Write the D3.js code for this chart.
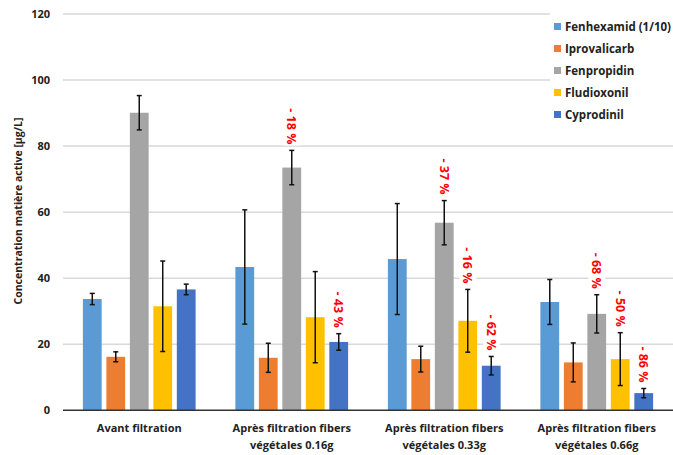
<!DOCTYPE html>
<html>
<head>
<meta charset="utf-8">
<script src="https://cdn.jsdelivr.net/npm/d3@7"></script>
<style>
  body { margin: 0; background: #fff; }
  svg text { font-family: "Open Sans", "DejaVu Sans", sans-serif; font-weight: 700; }
</style>
</head>
<body>
<div id="chart"></div>
<script>
const width = 673;
const height = 455;

const categories = [
  ["Avant filtration"],
  ["Après filtration fibers", "végétales 0.16g"],
  ["Après filtration fibers", "végétales 0.33g"],
  ["Après filtration fibers", "végétales 0.66g"],
];
const series = ["Fenhexamid (1/10)", "Iprovalicarb", "Fenpropidin", "Fludioxonil", "Cyprodinil"];
const colours = ["#5B9BD5", "#ED7D31", "#A5A5A5", "#FFC000", "#4472C4"];

// values[category][series]
const values = [
  [33.7, 16.2, 90.1, 31.5, 36.6],
  [43.4, 15.9, 73.5, 28.2, 20.7],
  [45.8, 15.5, 56.8, 27.1, 13.5],
  [32.8, 14.5, 29.2, 15.5, 5.2],
];
const errors = [
  [1.7, 1.5, 5.2, 13.7, 1.6],
  [17.3, 4.4, 5.2, 13.8, 2.5],
  [16.8, 3.9, 6.7, 9.5, 2.8],
  [6.8, 5.9, 5.8, 8.0, 1.4],
];
const reductions = [
  [null, null, null, null, null],
  [null, null, "- 18 %", null, "- 43 %"],
  [null, null, "- 37 %", "- 16 %", "- 62 %"],
  [null, null, "- 68 %", "- 50 %", "- 86 %"],
];
const yTicks = [0, 20, 40, 60, 80, 100, 120];

const margin = { top: 14, right: 0, bottom: 45, left: 63 };

const svg = d3.select("#chart")
  .append("svg")
  .attr("width", width)
  .attr("height", height);

const y = d3.scaleLinear().domain([0, 120]).range([height - margin.bottom + 0.3, margin.top]);

const x0 = d3.scaleBand()
  .domain(d3.range(categories.length))
  .range([margin.left, width - margin.right])
  .paddingInner(0.23)
  .paddingOuter(0.115);

const x1 = d3.scaleBand()
  .domain(d3.range(series.length))
  .range([0, x0.bandwidth()])
  .paddingInner(0.2)
  .paddingOuter(0.1);

// gridlines
svg.append("g")
  .selectAll("line")
  .data(yTicks.slice(1))
  .enter()
  .append("line")
  .attr("x1", margin.left)
  .attr("x2", width - margin.right)
  .attr("y1", (d) => y(d))
  .attr("y2", (d) => y(d))
  .attr("stroke", "#d9d9d9")
  .attr("stroke-width", 1.5);

// y tick labels
svg.append("g")
  .selectAll("text")
  .data(yTicks)
  .enter()
  .append("text")
  .attr("x", 50)
  .attr("y", (d) => y(d))
  .attr("dy", "0.35em")
  .attr("text-anchor", "end")
  .attr("font-size", 11)
  .attr("fill", "#222")
  .text((d) => d);

// y title
svg.append("text")
  .attr("transform", "translate(22, 211) rotate(-90)")
  .attr("text-anchor", "middle")
  .attr("font-size", 10.5)
  .attr("fill", "#222")
  .text("Concentration matière active [µg/L]");

// bars
const groups = svg.append("g")
  .selectAll("g")
  .data(values)
  .enter()
  .append("g")
  .attr("transform", (d, i) => `translate(${x0(i)},0)`);

groups.selectAll("rect")
  .data((d) => d)
  .enter()
  .append("rect")
  .attr("x", (d, j) => x1(j))
  .attr("y", (d) => y(d))
  .attr("width", x1.bandwidth())
  .attr("height", (d) => y(0) - y(d))
  .attr("fill", (d, j) => colours[j]);

// error bars + reduction labels
groups.each(function (row, i) {
  const g = d3.select(this);
  row.forEach((v, j) => {
    const cx = x1(j) + x1.bandwidth() / 2;
    const e = errors[i][j];
    const eb = g.append("g").attr("stroke", "#111").attr("stroke-width", 1.5);
    eb.append("line").attr("x1", cx).attr("x2", cx).attr("y1", y(v + e)).attr("y2", y(v - e));
    eb.append("line").attr("x1", cx - 2.5).attr("x2", cx + 2.5).attr("y1", y(v + e)).attr("y2", y(v + e));
    eb.append("line").attr("x1", cx - 2.5).attr("x2", cx + 2.5).attr("y1", y(v - e)).attr("y2", y(v - e));

    const label = reductions[i][j];
    if (label) {
      const lg = g.append("g")
        .attr("transform", `translate(${cx}, ${y(v + e) - 6}) rotate(90)`);
      const t = lg.append("text")
        .attr("x", 0)
        .attr("y", 0)
        .attr("dy", "0.35em")
        .attr("text-anchor", "end")
        .attr("font-size", 12.5)
        .attr("font-weight", 600)
        .attr("fill", "#FF0000")
        .text(label);
      const bb = t.node().getBBox();
      lg.insert("rect", "text")
        .attr("x", bb.x - 1)
        .attr("y", bb.y)
        .attr("width", bb.width + 2)
        .attr("height", bb.height)
        .attr("fill", "#fff");
    }
  });
});

// x axis line
svg.append("line")
  .attr("x1", margin.left)
  .attr("x2", width - margin.right)
  .attr("y1", y(0))
  .attr("y2", y(0))
  .attr("stroke", "#333")
  .attr("stroke-width", 1.5);

// category labels
svg.append("g")
  .selectAll("text")
  .data(categories)
  .enter()
  .append("text")
  .attr("x", (d, i) => x0(i) + x0.bandwidth() / 2)
  .attr("y", 432)
  .attr("text-anchor", "middle")
  .attr("font-size", 11)
  .attr("fill", "#222")
  .each(function (d) {
    d3.select(this)
      .selectAll("tspan")
      .data(d)
      .enter()
      .append("tspan")
      .attr("x", d3.select(this).attr("x"))
      .attr("dy", (t, k) => (k === 0 ? 0 : 17))
      .text((t) => t);
  });

// legend
const legend = svg.append("g").attr("transform", "translate(554, 17)");
legend.append("rect")
  .attr("x", -4)
  .attr("y", -4)
  .attr("width", 123)
  .attr("height", 114)
  .attr("fill", "#fff");
const items = legend.selectAll("g.item")
  .data(series)
  .enter()
  .append("g")
  .attr("class", "item")
  .attr("transform", (d, i) => `translate(0, ${i * 22})`);
items.append("rect")
  .attr("x", 0)
  .attr("y", 6)
  .attr("width", 7)
  .attr("height", 7)
  .attr("fill", (d, i) => colours[i]);
items.append("text")
  .attr("x", 11)
  .attr("y", 10)
  .attr("dy", "0.35em")
  .attr("font-size", 11.5)
  .attr("fill", "#222")
  .text((d) => d);
</script>
</body>
</html>
